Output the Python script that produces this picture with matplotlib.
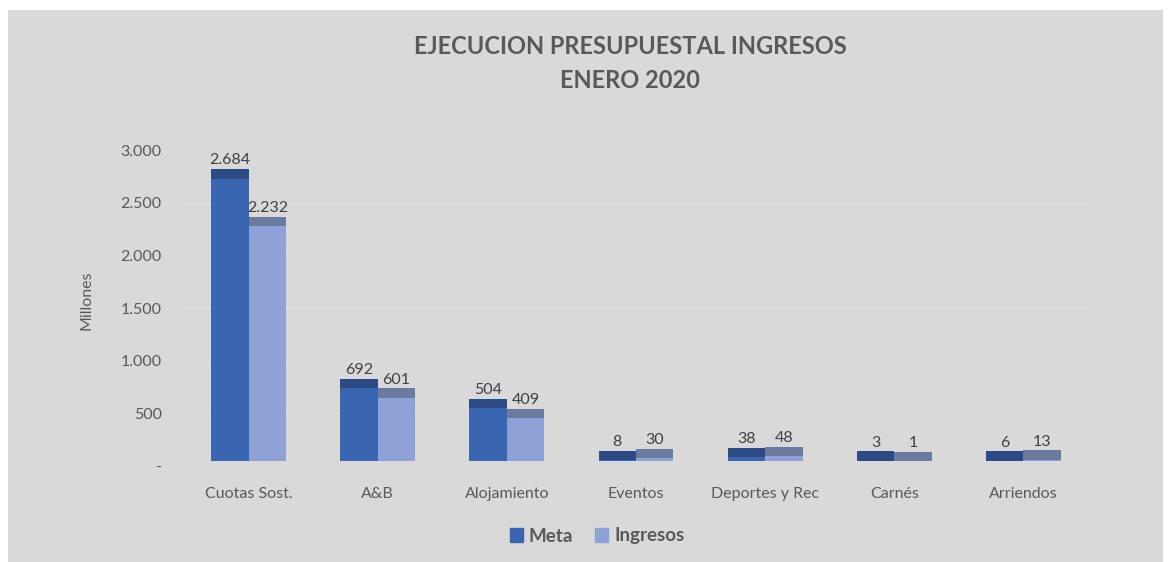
import matplotlib.pyplot as plt
import matplotlib.patches as mpatches
import numpy as np

plt.rcParams['font.family'] = ['Lato', 'DejaVu Sans']

# Data (millones)
categorias = ['Cuotas Sost.', 'A&B', 'Alojamiento', 'Eventos', 'Deportes y Rec', 'Carnés', 'Arriendos']
meta = [2684, 692, 504, 8, 38, 3, 6]
ingresos = [2232, 601, 409, 30, 48, 1, 13]
yticks = [0, 500, 1000, 1500, 2000, 2500, 3000]
ytick_labels = ['-', '500', '1.000', '1.500', '2.000', '2.500', '3.000']

W, H = 1170, 562
fig = plt.figure(figsize=(W / 100, H / 100), dpi=100)
fig.patch.set_facecolor('white')

# gray chart area with a thin white margin left/top
fig.patches.append(mpatches.Rectangle((8 / W, 0), (1163 - 8) / W, (H - 10) / H,
                                      transform=fig.transFigure, facecolor='#d9d9d9',
                                      edgecolor='none', zorder=-10))

# axes: x from 184 to 1088 px, y: 0 at 466 px, 3000 at 150 px
px_per_unit = (466 - 150) / 3000
y_top = 3000 + (150 - 120) / px_per_unit
y_bot = -(480 - 466) / px_per_unit
ax_left, ax_right = 184, 1088
ax = fig.add_axes([ax_left / W, 1 - 480 / H, (ax_right - ax_left) / W, (480 - 120) / H])
ax.set_facecolor('none')
ax.set_ylim(y_bot, y_top)
ax.set_xlim(-0.5, len(categorias) - 0.5)

txt = '#595959'
x = np.arange(len(categorias))
w = 0.29
lift = 45    # 3D floor lift
depth = 90   # top face thickness

meta_front, meta_top = '#3a65b0', '#2c4b84'
ing_front, ing_top = '#8fa2d8', '#6b7ba0'

for xs, vals, fc, tc in [(x - w / 2, meta, meta_front, meta_top),
                         (x + w / 2, ingresos, ing_front, ing_top)]:
    ax.bar(xs, vals, w, bottom=lift, color=fc, zorder=2)
    ax.bar(xs, [depth] * len(vals), w, bottom=[v + lift for v in vals], color=tc, zorder=3)
    for xi, v in zip(xs, vals):
        ax.text(xi, v + lift + depth + 15, f'{v:,}'.replace(',', '.'), ha='center', va='bottom',
                fontsize=11.5, color='#404040')

for y in yticks[1:]:
    ax.axhline(y, color='#dedede', lw=0.8, zorder=1)

ax.set_yticks(yticks)
ax.set_yticklabels(ytick_labels, fontsize=11.5, color=txt)
ax.set_xticks(x)
ax.set_xticklabels(categorias, fontsize=11.5, color=txt)
ax.tick_params(length=0)
ax.tick_params(axis='y', pad=16)
ax.tick_params(axis='x', pad=5)
for s in ax.spines.values():
    s.set_visible(False)

fig.text(87 / W, 1 - 300 / H, 'Millones', rotation=90, ha='center', va='center',
         fontsize=11.5, color=txt)

fig.text(630 / W, 1 - 47 / H, 'EJECUCION PRESUPUESTAL INGRESOS', ha='center', va='center',
         fontsize=17, fontweight='bold', color=txt)
fig.text(630 / W, 1 - 81 / H, 'ENERO 2020', ha='center', va='center',
         fontsize=17, fontweight='bold', color=txt)

handles = [mpatches.Patch(color=meta_front, label='Meta'),
           mpatches.Patch(color=ing_front, label='Ingresos')]
leg = fig.legend(handles=handles, loc='center', bbox_to_anchor=(597 / W, 1 - 536 / H),
                 ncol=2, frameon=False, handlelength=0.7, handleheight=0.7,
                 handletextpad=0.3, columnspacing=1.2, prop={'weight': 'bold', 'size': 13.5})
for t in leg.get_texts():
    t.set_color(txt)

fig.savefig('out.png', dpi=100, facecolor=fig.get_facecolor())
